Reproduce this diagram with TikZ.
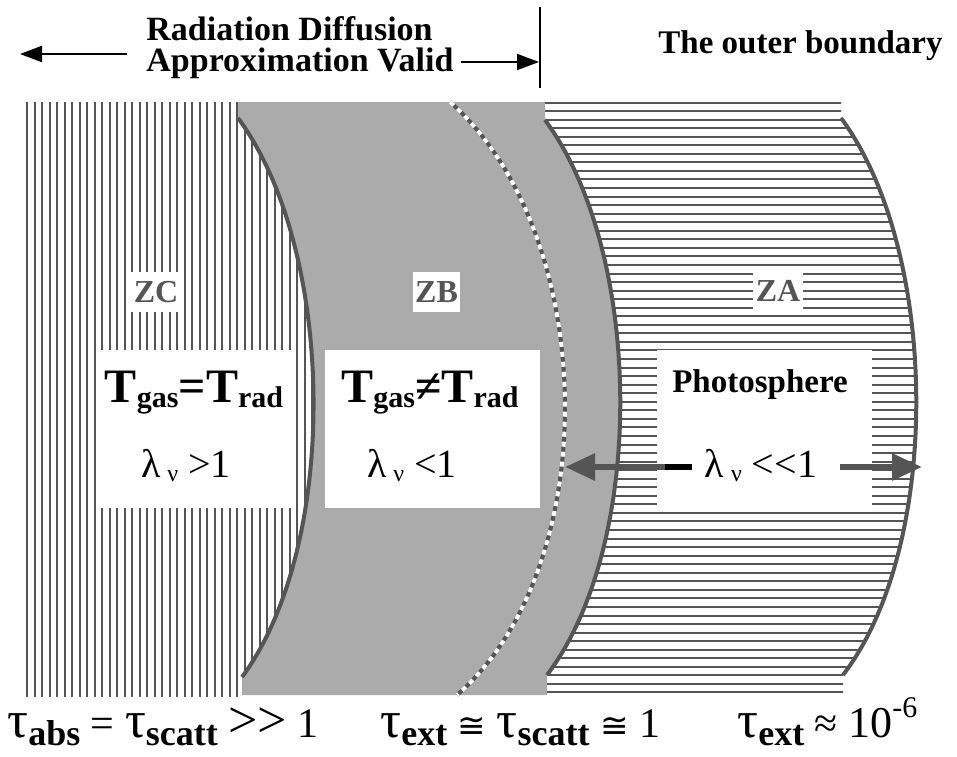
\documentclass[tikz,border=0pt]{standalone}
\usepackage{fontspec}
\setmainfont{Liberation Serif}
\newfontfamily\congfont{DejaVu Sans}
\usetikzlibrary{arrows.meta}
\definecolor{ink}{HTML}{555555}
\definecolor{zbgray}{HTML}{ABABAB}
\newcommand\lowsub[1]{\raisebox{-2.5pt}{\fontsize{15}{15}\selectfont\bfseries #1}}
\newcommand\nusub{\raisebox{-2pt}{\fontsize{12}{12}\selectfont ν}}
\newcommand\tauch{{\fontsize{26}{26}\selectfont τ}}
\newcommand\tsub[1]{\raisebox{-4pt}{\fontsize{18}{18}\selectfont\bfseries #1}}
\tikzset{
  hatch/.style={ink, line width=1pt},
  border/.style={ink, line width=2pt},
  panel/.style={fill=white, inner sep=0pt},
  zlabel/.style={fill=white, text=ink, font=\fontsize{16}{16}\selectfont\bfseries,
    inner sep=0pt, minimum height=20pt},
  bigarrow/.style={ink, line width=3pt, -{Triangle[length=15pt,width=13pt]}},
  head/.style={anchor=base west, inner sep=0pt, font=\fontsize{17}{17}\selectfont\bfseries},
}
\begin{document}
\begin{tikzpicture}[x=0.5pt, y=-0.5pt, >={Triangle[length=11pt,width=8pt]}]
  \useasboundingbox (0,0) rectangle (957,756);
  % zone B
  \fill[zbgray] (238,102) -- (545,102) -- (545,120) .. controls (643,252) and (647,543) .. (547,675)
    -- (547,695) -- (242,695) -- (242,677) .. controls (340,545) and (336,250) .. (238,118) -- cycle;
  % zone C
  \begin{scope}
    \clip (25,102) -- (238,102) -- (238,118) .. controls (336,250) and (340,545) .. (242,677)
      -- (242,697) -- (25,697) -- cycle;
    \foreach \x in {27,34.5,...,330}
      \draw[hatch] (\x,102) -- (\x,697);
  \end{scope}
  % zone A
  \begin{scope}
    \clip (545,101) -- (841,101) -- (841,118) .. controls (939,250) and (943,545) .. (843,675)
      -- (843,694) -- (547,694) -- (547,675) .. controls (647,543) and (643,252) .. (545,120) -- cycle;
    \foreach \y in {102.5,111.05,...,694}
      \draw[hatch] (545,\y) -- (950,\y);
  \end{scope}
  \draw[border] (238,118) .. controls (336,250) and (340,545) .. (242,677);
  \draw[border] (545,120) .. controls (643,252) and (647,543) .. (547,675);
  \draw[border] (841,118) .. controls (939,250) and (943,545) .. (843,675);
  \draw[ink, line width=2pt] (450,102) .. controls (598,232) and (606,565) .. (457,695);
  \draw[white, line width=2pt, dash pattern=on 2.5pt off 2.5pt] (450,102) .. controls (598,232) and (606,565) .. (457,695);

  \node[panel, minimum width=98pt, minimum height=79pt] (boxc) at (195,429) {};
  \node[panel, minimum width=107.5pt, minimum height=79pt] (boxb) at (432.5,429) {};
  \node[panel, minimum width=107.5pt, minimum height=79pt] (boxa) at (764.5,429) {};
  \node[zlabel, minimum width=26pt] (zc) at (156,292) {ZC};
  \node[zlabel, minimum width=23.5pt] (zb) at (436.5,292) {ZB};
  \node[zlabel, minimum width=25pt] (za) at (778,291) {ZA};

  \node[anchor=base] (eqc) at (194,402) {\fontsize{24}{24}\selectfont\bfseries T\lowsub{gas}=T\lowsub{rad}};
  \node[anchor=base] (lamc) at (186,477) {\fontsize{20}{20}\selectfont λ\,\nusub\ >1};
  \node[anchor=base] (eqb) at (430,402) {\fontsize{24}{24}\selectfont\bfseries T\lowsub{gas}≠T\lowsub{rad}};
  \node[anchor=base] (lamb) at (412,477) {\fontsize{20}{20}\selectfont λ\,\nusub\ <1};
  \node[anchor=base] (photo) at (760,392) {\fontsize{16.5}{16.5}\selectfont\bfseries Photosphere};
  \node[anchor=base] (lama) at (761,477) {\fontsize{20}{20}\selectfont λ\,\nusub\ <{}<1};

  \coordinate (al) at (665,467);
  \coordinate (pl) at (565,467);
  \coordinate (ar) at (840,467);
  \coordinate (pr) at (922,467);
  \draw[bigarrow] (al) -- (pl);
  \draw[line width=3pt] (al) -- ++(27,0);
  \draw[bigarrow] (ar) -- (pr);

  % top
  \node[head] (rdiff) at (146,40) {Radiation Diffusion};
  \node[head] (approx) at (146,71) {Approximation Valid};
  \node[head, font=\fontsize{16.5}{16.5}\selectfont\bfseries] (outer) at (658,53) {The outer boundary};
  \coordinate (lf) at (127,54);
  \coordinate (lt) at (20,54);
  \coordinate (rf) at (461,62);
  \coordinate (rt) at (539,62);
  \coordinate (bt) at (540,7);
  \coordinate (bb) at (540,88);
  \draw[->, line width=1pt] (lf) -- (lt);
  \draw[->, line width=1pt] (rf) -- (rt);
  \draw[line width=1pt] (bt) -- (bb);

  % bottom
  \node[anchor=base west, inner sep=0pt] (taul) at (7,737)
    {\fontsize{21}{21}\selectfont \tauch\tsub{abs} = \tauch\tsub{scatt} {\fontsize{26}{26}\selectfont >{}>} 1};
  \node[anchor=base west, inner sep=0pt] (taum) at (380,737)
    {\fontsize{21}{21}\selectfont \tauch\tsub{ext} {\congfont\fontsize{17}{17}\selectfont ≅} \tauch\tsub{scatt} {\congfont\fontsize{17}{17}\selectfont ≅} 1};
  \node[anchor=base west, inner sep=0pt] (taur) at (737,737)
    {\fontsize{21}{21}\selectfont \tauch\tsub{ext} ≈ {\fontsize{22}{22}\selectfont 10}\raisebox{10pt}{\fontsize{15}{15}\selectfont -6}};
\end{tikzpicture}
\end{document}
